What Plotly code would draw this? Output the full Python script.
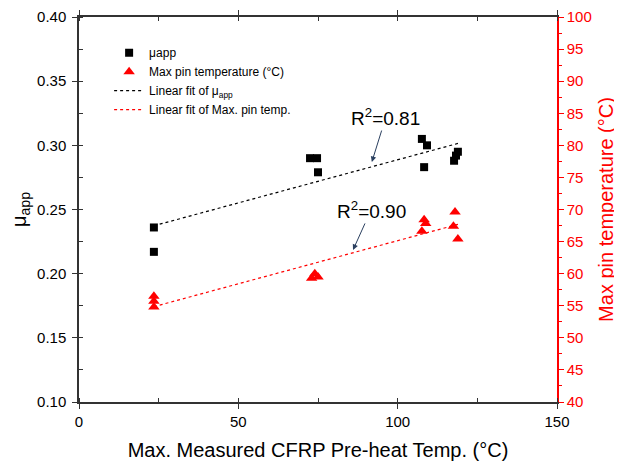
import numpy as np
import plotly.graph_objects as go

# data
mu_x = [23.5, 23.5, 72.5, 74.7, 75.0, 107.6, 109.2, 108.3, 117.7, 118.3, 118.9]
mu_y = [0.236, 0.217, 0.290, 0.290, 0.279, 0.305, 0.300, 0.283, 0.288, 0.292, 0.295]
pin_x = [23.5, 23.5, 23.5, 73.0, 74.0, 75.0, 108.3, 108.8, 107.6, 118.0, 117.5, 118.9]
pin_y = [56.5, 55.7, 54.8, 59.3, 60.0, 59.5, 68.4, 67.8, 66.6, 69.6, 67.4, 65.4]

fit_range = [23.5, 119.0]

def linfit(xs, ys):
    m, b = np.polyfit(xs, ys, 1)
    return [m * v + b for v in fit_range]

font = "Liberation Sans, Arial, sans-serif"
red = "#ff0000"

fig = go.Figure()
fig.add_trace(go.Scatter(x=mu_x, y=mu_y, mode="markers", name="μapp",
                         marker=dict(symbol="square", size=8, color="black")))
fig.add_trace(go.Scatter(x=pin_x, y=pin_y, mode="markers", name="Max pin temperature (°C)",
                         marker=dict(symbol="triangle-up", size=10, color=red), yaxis="y2"))
fig.add_trace(go.Scatter(x=fit_range, y=linfit(mu_x, mu_y), mode="lines",
                         name="Linear fit of μ<sub>app</sub>",
                         line=dict(color="black", dash="dot", width=1.2)))
fig.add_trace(go.Scatter(x=fit_range, y=linfit(pin_x, pin_y), mode="lines",
                         name="Linear fit of Max. pin temp.", yaxis="y2",
                         line=dict(color=red, dash="dot", width=1.2)))

fig.add_annotation(x=91.9, y=0.287, xref="x", yref="y", text="R<sup>2</sup>=0.81",
                   showarrow=True, arrowhead=2, arrowsize=1.1, arrowwidth=1, ax=14, ay=-45,
                   font=dict(size=19, color="black", family=font))
fig.add_annotation(x=86.0, y=63.7, xref="x", yref="y2", text="R<sup>2</sup>=0.90",
                   showarrow=True, arrowhead=2, arrowsize=1.1, arrowwidth=1, ax=18, ay=-40,
                   font=dict(size=19, color="black", family=font))

fig.update_layout(
    width=614, height=456,
    margin=dict(l=71, r=65, t=9, b=62, autoexpand=False),
    paper_bgcolor="white", plot_bgcolor="white",
    font=dict(family=font, size=15, color="black"),
    showlegend=True,
    legend=dict(x=0.063, y=0.945, xanchor="left", yanchor="top",
                bgcolor="rgba(0,0,0,0)", font=dict(size=12), tracegroupgap=0,
                itemwidth=30),
    xaxis=dict(range=[0, 150], dtick=50, showline=True, linecolor="#333", linewidth=1.5,
               mirror="ticks", ticks="outside", ticklen=5, tickcolor="#333",
               minor=dict(dtick=25, ticks="inside", ticklen=4, tickcolor="#333"),
               showgrid=False, zeroline=False, automargin=False,
               title=dict(text="Max. Measured CFRP Pre-heat Temp. (°C)", font=dict(size=20), standoff=14)),
    yaxis=dict(range=[0.10, 0.40], dtick=0.05, tickformat=".2f", showline=True,
               linecolor="#333", linewidth=1.5, ticks="outside", ticklen=5, tickcolor="#333",
               ticklabelstandoff=3,
               minor=dict(dtick=0.025, ticks="inside", ticklen=4, tickcolor="#333"),
               showgrid=False, zeroline=False, automargin=False,
               title=dict(text="μ<sub>app</sub>", font=dict(size=20), standoff=6)),
    yaxis2=dict(range=[40, 100], dtick=5, overlaying="y", side="right", showline=True,
                linecolor=red, linewidth=1.5, ticks="outside", ticklen=5, tickcolor=red,
                minor=dict(dtick=2.5, ticks="outside", ticklen=3, tickcolor=red),
                tickfont=dict(color=red), showgrid=False, zeroline=False, automargin=False,
                title=dict(text="Max pin temperature (°C)", font=dict(size=20, color=red), standoff=8)),
)

fig.write_html("out.html")
